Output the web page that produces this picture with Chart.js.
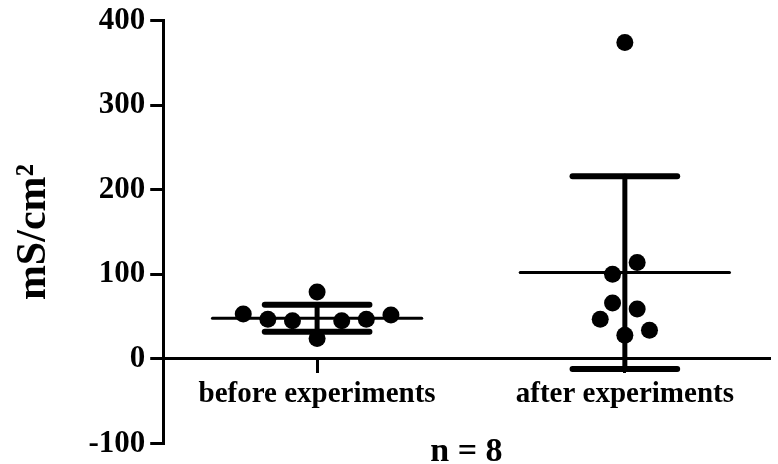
<!DOCTYPE html>
<html>
<head>
<meta charset="utf-8">
<script src="https://cdn.jsdelivr.net/npm/chart.js@4"></script>
<style>
  html, body { margin: 0; padding: 0; background: #fff; }
  #wrap { width: 778px; height: 464px; position: relative; }
</style>
</head>
<body>
<div id="wrap"><canvas id="chart"></canvas></div>
<script>
const categories = ['before experiments', 'after experiments'];

// individual measurements, with the horizontal spread of each dot (in category widths)
const beforeValues = [53, 47, 45, 79, 24, 45, 47, 52];
const beforeOffsets = [-0.24, -0.16, -0.08, 0, 0, 0.08, 0.16, 0.24];
const afterValues = [100, 114, 66, 59, 47, 34, 28, 374];
const afterOffsets = [-0.04, 0.04, -0.04, 0.04, -0.08, 0.08, 0, 0];

// mean and SD as drawn
const means = [48, 102];
const sds = [16, 114];

const yTicks = [-100, 0, 100, 200, 300, 400];

const serif = '"Liberation Serif", "Times New Roman", serif';
const meanHalfWidth = 0.34;
const capHalfWidth = 0.17;

function dots(values, offsets, position) {
  return values.map((v, i) => ({ x: position + offsets[i], y: v }));
}

function segment(data, width) {
  return {
    type: 'line',
    data,
    borderColor: '#000',
    borderWidth: width,
    borderCapStyle: 'round',
    pointRadius: 0,
    pointHoverRadius: 0,
    fill: false,
  };
}

const lineSets = [];
means.forEach((m, i) => {
  const pos = i + 1;
  const lo = m - sds[i];
  const hi = m + sds[i];
  lineSets.push(segment([{ x: pos - meanHalfWidth, y: m }, { x: pos + meanHalfWidth, y: m }], 3));
  lineSets.push(segment([{ x: pos, y: lo }, { x: pos, y: hi }], 5));
  lineSets.push(segment([{ x: pos - capHalfWidth, y: hi }, { x: pos + capHalfWidth, y: hi }], 6));
  lineSets.push(segment([{ x: pos - capHalfWidth, y: lo }, { x: pos + capHalfWidth, y: lo }], 6));
});

const dotStyle = {
  type: 'scatter',
  backgroundColor: '#000',
  borderWidth: 0,
  pointRadius: 8.5,
  pointHoverRadius: 8.5,
};

const bottomTitle = {
  id: 'bottomTitle',
  afterDraw(chart) {
    const { ctx, chartArea } = chart;
    ctx.save();
    ctx.font = 'bold 34px ' + serif;
    ctx.fillStyle = '#000';
    ctx.textAlign = 'center';
    ctx.textBaseline = 'alphabetic';
    ctx.fillText('n = 8', (chartArea.left + chartArea.right) / 2, 461);
    ctx.restore();
  },
};

new Chart(document.getElementById('chart'), {
  type: 'scatter',
  data: {
    datasets: [
      ...lineSets,
      { ...dotStyle, data: dots(beforeValues, beforeOffsets, 1) },
      { ...dotStyle, data: dots(afterValues, afterOffsets, 2) },
    ],
  },
  options: {
    responsive: true,
    maintainAspectRatio: false,
    animation: false,
    layout: { padding: { top: 20, bottom: 17, left: 0, right: 0 } },
    plugins: {
      legend: { display: false },
      tooltip: { enabled: false },
    },
    scales: {
      x: {
        type: 'linear',
        min: 0.5,
        max: 2.47,
        position: { y: 0 },
        afterBuildTicks: scale => {
          scale.ticks = categories.map((_, i) => ({ value: i + 1 }));
        },
        ticks: {
          callback: (value, index) => categories[index],
          font: { family: serif, size: 29, weight: 'bold' },
          color: '#000',
          padding: 5,
          maxRotation: 0,
          autoSkip: false,
        },
        grid: { drawOnChartArea: false, drawTicks: true, tickLength: 13, color: '#000', lineWidth: 3 },
        border: { display: true, color: '#000', width: 3 },
      },
      y: {
        min: -100,
        max: 400,
        afterBuildTicks: scale => {
          scale.ticks = yTicks.map(v => ({ value: v }));
        },
        ticks: {
          font: { family: serif, size: 31, weight: 'bold', lineHeight: 1 },
          color: '#000',
          padding: 5,
        },
        grid: { drawOnChartArea: false, drawTicks: true, tickLength: 13, color: '#000', lineWidth: 3 },
        border: { display: true, color: '#000', width: 3 },
        title: {
          display: true,
          text: 'mS/cm²',
          color: '#000',
          font: { family: serif, size: 42, weight: 'bold' },
          padding: { top: 9, bottom: 24 },
        },
      },
    },
  },
  plugins: [bottomTitle],
});
</script>
</body>
</html>
